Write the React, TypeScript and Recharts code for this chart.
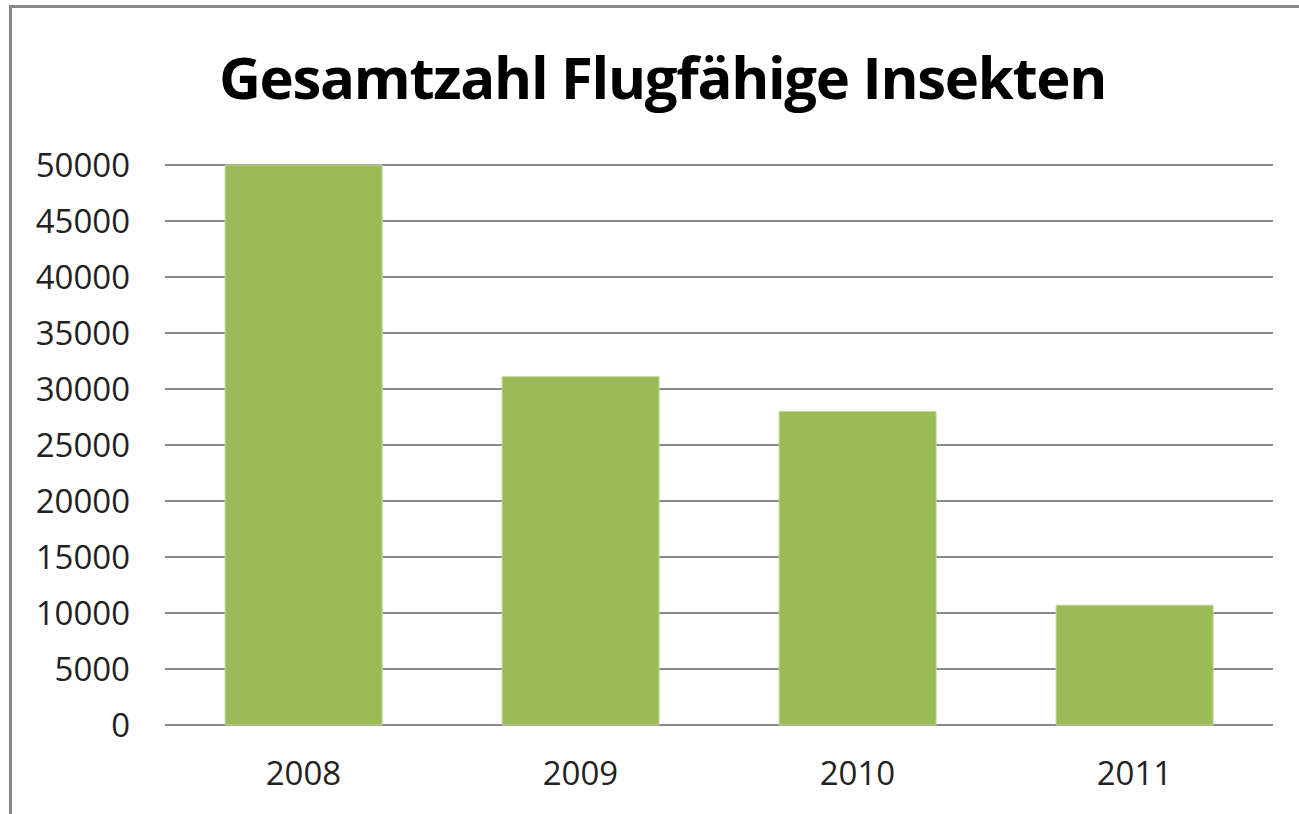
import React from "react";
import { BarChart, Bar, XAxis, YAxis, CartesianGrid } from "recharts";

const years = ["2008", "2009", "2010", "2011"];
const counts = [50000, 31100, 28000, 10700];
const yTicks = [0, 5000, 10000, 15000, 20000, 25000, 30000, 35000, 40000, 45000, 50000];

const data = years.map((year, i) => ({ year, count: counts[i] }));

const FONT = "'Open Sans', 'Noto Sans', sans-serif";

export default function App() {
  return (
    <div
      style={{
        position: "absolute",
        left: 0,
        top: 0,
        width: 1299,
        height: 814,
        background: "#fff",
        overflow: "hidden",
        fontFamily: FONT,
      }}
    >
      {/* frame: only top and left edges are visible in the crop */}
      <div
        style={{
          position: "absolute",
          left: 9,
          top: 5,
          width: 1320,
          height: 840,
          borderLeft: "3px solid #878787",
          borderTop: "3px solid #878787",
        }}
      />
      <div
        style={{
          position: "absolute",
          left: 0,
          top: 37,
          width: 1325,
          textAlign: "center",
          fontWeight: 700,
          fontSize: 58,
          letterSpacing: -1.3,
          color: "#000",
          lineHeight: "80px",
        }}
      >
        Gesamtzahl Flugfähige Insekten
      </div>
      <div style={{ position: "absolute", left: 0, top: 0 }}>
        <BarChart
          width={1299}
          height={814}
          data={data}
          margin={{ top: 165, right: 26, bottom: 0, left: 10 }}
          barCategoryGap="21.7%"
        >
          <CartesianGrid vertical={false} stroke="#898989" strokeWidth={2} />
          <XAxis
            dataKey="year"
            height={89}
            axisLine={false}
            tickLine={false}
            tickSize={0}
            tickMargin={37}
            tick={{ fill: "#222", fontSize: 33, fontFamily: FONT }}
          />
          <YAxis
            width={155}
            domain={[0, 50000]}
            ticks={yTicks}
            interval={0}
            axisLine={false}
            tickLine={false}
            tickSize={0}
            tickMargin={35}
            tick={{ fill: "#222", fontSize: 33, fontFamily: FONT }}
          />
          <Bar
            dataKey="count"
            fill="#9BBB59"
            stroke="#c2d69b"
            strokeWidth={1}
            isAnimationActive={false}
          />
        </BarChart>
      </div>
    </div>
  );
}
